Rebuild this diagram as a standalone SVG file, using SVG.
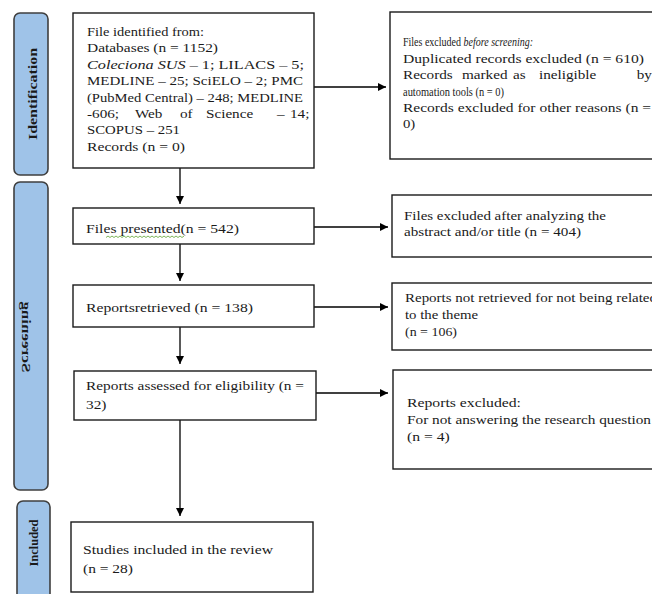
<svg xmlns="http://www.w3.org/2000/svg" width="652" height="594" viewBox="0 0 652 594">
<defs>
<style>
.bar{fill:#9fc3e8;stroke:#3f3f3f;stroke-width:1.6}
.box{fill:#ffffff;stroke:#1a1a1a;stroke-width:1.4}
.t{font-family:"Liberation Serif","Times New Roman",serif;font-size:13px;fill:#1a1a1a}
.bt{font-family:"Liberation Serif","Times New Roman",serif;font-size:13px;font-weight:bold;fill:#1a1a1a}
.ln{stroke:#000;stroke-width:1.3;fill:none}
</style>
<marker id="ah" viewBox="0 0 10 10" refX="10" refY="5" markerWidth="8" markerHeight="8" markerUnits="userSpaceOnUse" orient="auto">
<path d="M0,0 L10,5 L0,10 z" fill="#000"/>
</marker>
</defs>
<rect width="652" height="594" fill="#ffffff"/>

<g id="phase-identification">
<rect class="bar" x="14" y="13" width="34" height="162" rx="6"/>
<text class="bt" transform="translate(37,94) rotate(-90)" text-anchor="middle" textLength="92" lengthAdjust="spacingAndGlyphs">Identification</text>
</g>
<g id="phase-screening">
<rect class="bar" x="14" y="182" width="34" height="308" rx="6"/>
<text class="bt" transform="translate(22,337) rotate(-90) scale(1,-1)" text-anchor="middle" textLength="71" lengthAdjust="spacingAndGlyphs">Screening</text>
</g>
<g id="phase-included">
<rect class="bar" x="17" y="501" width="33" height="110" rx="6"/>
<text class="bt" transform="translate(38,543) rotate(-90)" text-anchor="middle" textLength="47" lengthAdjust="spacingAndGlyphs">Included</text>
</g>

<g id="connectors">
<line class="ln" x1="180" y1="168" x2="180" y2="204" marker-end="url(#ah)"/>
<line class="ln" x1="180" y1="244" x2="180" y2="281" marker-end="url(#ah)"/>
<line class="ln" x1="180" y1="327" x2="180" y2="364" marker-end="url(#ah)"/>
<line class="ln" x1="180" y1="420" x2="180" y2="516" marker-end="url(#ah)"/>
<line class="ln" x1="314" y1="87" x2="386" y2="87" marker-end="url(#ah)"/>
<line class="ln" x1="314" y1="227" x2="388" y2="227" marker-end="url(#ah)"/>
<line class="ln" x1="314" y1="307" x2="388" y2="307" marker-end="url(#ah)"/>
<line class="ln" x1="316" y1="393" x2="388" y2="393" marker-end="url(#ah)"/>
</g>

<g id="identified">
<rect class="box" x="73" y="13" width="241" height="155"/>
<text class="t" x="87" y="36" textLength="117" lengthAdjust="spacingAndGlyphs">File identified from:</text>
<text class="t" x="87" y="52.4" textLength="131" lengthAdjust="spacingAndGlyphs">Databases (n = 1152)</text>
<text class="t" x="87" y="68.8" textLength="217" lengthAdjust="spacingAndGlyphs"><tspan font-style="italic">Coleciona SUS</tspan> – 1; LILACS – 5;</text>
<text class="t" x="87" y="85.2" textLength="216" lengthAdjust="spacingAndGlyphs">MEDLINE – 25; SciELO – 2; PMC</text>
<text class="t" x="87" y="101.6" textLength="216" lengthAdjust="spacingAndGlyphs">(PubMed Central) – 248; MEDLINE</text>
<text class="t" transform="translate(87,118) scale(1.17,1)"><tspan x="0">-606;</tspan> <tspan x="41">Web</tspan> <tspan x="79.5">of</tspan> <tspan x="101.7">Science</tspan> <tspan x="162.4">–</tspan> <tspan x="173.5">14;</tspan></text>
<text class="t" x="87" y="134.4" textLength="93" lengthAdjust="spacingAndGlyphs">SCOPUS – 251</text>
<text class="t" x="87" y="150.8" textLength="98" lengthAdjust="spacingAndGlyphs">Records (n = 0)</text>
</g>

<g id="excluded-before">
<rect class="box" x="390" y="12" width="280" height="147"/>
<text class="t" x="403" y="46" textLength="130" lengthAdjust="spacingAndGlyphs">Files excluded <tspan font-style="italic">before screening:</tspan></text>
<text class="t" x="403" y="63" textLength="241" lengthAdjust="spacingAndGlyphs">Duplicated records excluded (n = 610)</text>
<text class="t" transform="translate(403,79.3) scale(1.17,1)"><tspan x="0">Records</tspan> <tspan x="50.4">marked</tspan> <tspan x="94">as</tspan> <tspan x="116.2">ineligible</tspan> <tspan x="199.7">by</tspan></text>
<text class="t" x="403" y="95.5" textLength="101" lengthAdjust="spacingAndGlyphs">automation tools (n = 0)</text>
<text class="t" x="403" y="111.5" textLength="248" lengthAdjust="spacingAndGlyphs">Records excluded for other reasons (n =</text>
<text class="t" x="403" y="128" textLength="12.3" lengthAdjust="spacingAndGlyphs">0)</text>
</g>

<g id="presented">
<rect class="box" x="73" y="208" width="241" height="36"/>
<text class="t" x="86" y="232.5" textLength="153" lengthAdjust="spacingAndGlyphs">Files presented(n = 542)</text>
<path d="M106,237.5 l2,-1.5 l2,1.5 l2,-1.5 l2,1.5 l2,-1.5 l2,1.5 l2,-1.5 l2,1.5 l2,-1.5 l2,1.5 l2,-1.5 l2,1.5 l2,-1.5 l2,1.5 l2,-1.5 l2,1.5 l2,-1.5 l2,1.5 l2,-1.5 l2,1.5 l2,-1.5 l2,1.5 l2,-1.5 l2,1.5 l2,-1.5 l2,1.5 l2,-1.5 l2,1.5 l2,-1.5 l2,1.5 l2,-1.5 l2,1.5 l2,-1.5 l2,1.5 l2,-1.5 l2,1.5 l2,-1.5 l2,1.5 l2,-1.5" fill="none" stroke="#6fae47" stroke-width="0.9"/>
</g>

<g id="excluded-abstract">
<rect class="box" x="392" y="195" width="280" height="62"/>
<text class="t" x="404" y="220" textLength="202" lengthAdjust="spacingAndGlyphs">Files excluded after analyzing the</text>
<text class="t" x="404" y="236" textLength="177" lengthAdjust="spacingAndGlyphs">abstract and/or title (n = 404)</text>
</g>

<g id="retrieved">
<rect class="box" x="73" y="285" width="241" height="42"/>
<text class="t" x="86" y="311.5" textLength="167" lengthAdjust="spacingAndGlyphs">Reportsretrieved (n = 138)</text>
</g>

<g id="not-retrieved">
<rect class="box" x="392" y="283" width="280" height="67"/>
<text class="t" x="405" y="302" textLength="252" lengthAdjust="spacingAndGlyphs">Reports not retrieved for not being related</text>
<text class="t" x="405" y="319" textLength="73" lengthAdjust="spacingAndGlyphs">to the theme</text>
<text class="t" x="405" y="336" textLength="52" lengthAdjust="spacingAndGlyphs">(n = 106)</text>
</g>

<g id="assessed">
<rect class="box" x="74" y="371" width="242" height="49"/>
<text class="t" x="86" y="389.5" textLength="218" lengthAdjust="spacingAndGlyphs">Reports assessed for eligibility (n =</text>
<text class="t" x="86" y="408.5" textLength="20.5" lengthAdjust="spacingAndGlyphs">32)</text>
</g>

<g id="reports-excluded">
<rect class="box" x="393" y="370" width="280" height="99"/>
<text class="t" x="407" y="407" textLength="114" lengthAdjust="spacingAndGlyphs">Reports excluded:</text>
<text class="t" x="407" y="423.5" textLength="244" lengthAdjust="spacingAndGlyphs">For not answering the research question</text>
<text class="t" x="407" y="440.5" textLength="42.7" lengthAdjust="spacingAndGlyphs">(n = 4)</text>
</g>

<g id="included">
<rect class="box" x="71" y="522" width="242" height="70"/>
<text class="t" x="83" y="553.5" textLength="190" lengthAdjust="spacingAndGlyphs">Studies included in the review</text>
<text class="t" x="83" y="572.5" textLength="50" lengthAdjust="spacingAndGlyphs">(n = 28)</text>
</g>
</svg>
